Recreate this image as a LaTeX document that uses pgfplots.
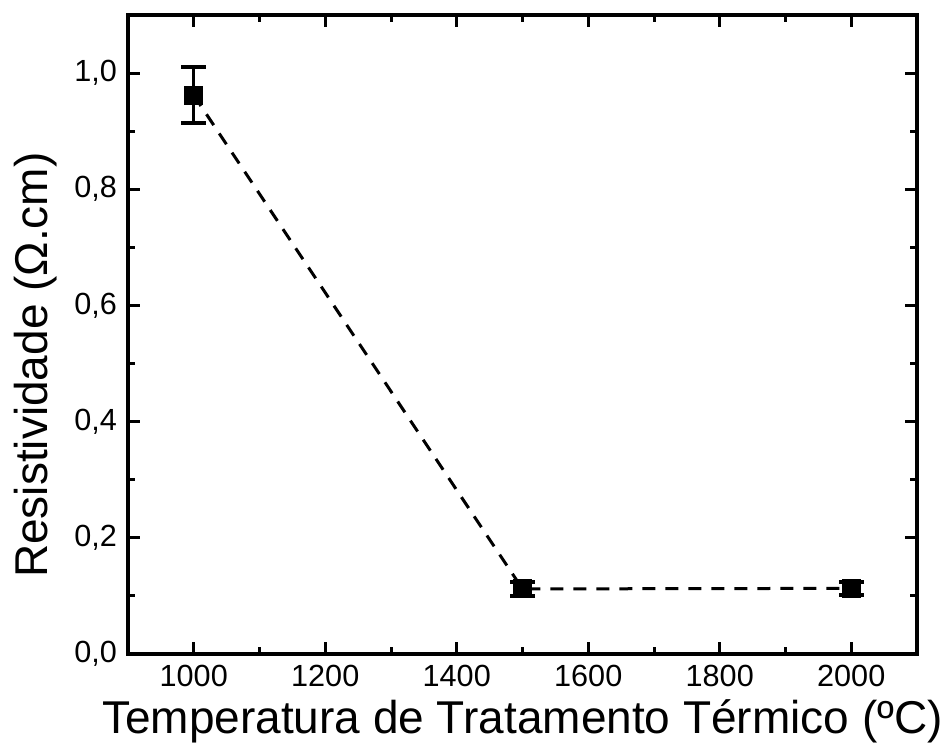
\documentclass[border=0pt]{standalone}
\usepackage{fontspec}
\setmainfont{Liberation Sans}
\usepackage{pgfplots}
\pgfplotsset{compat=1.18}
\begin{document}
\begin{tikzpicture}
\begin{axis}[
  name=ax,
  scale only axis,
  width=394.5pt, height=319.5pt,
  xmin=900, xmax=2100, ymin=0, ymax=1.1,
  xtick={1000,1200,1400,1600,1800,2000},
  ytick={0,0.2,0.4,0.6,0.8,1.0},
  minor x tick num=1, minor y tick num=1,
  tick align=inside,
  major tick length=6pt, minor tick length=3.5pt,
  every tick/.style={line width=1.5pt, black},
  axis line style={line width=2pt},
  /pgf/number format/assume math mode=true,
  xticklabel style={/pgf/number format/1000 sep={}, font=\fontsize{15.3}{18}\selectfont, yshift=-2pt},
  yticklabel style={/pgf/number format/.cd, use comma, fixed, fixed zerofill, precision=1, /tikz/.cd, font=\fontsize{15.3}{18}\selectfont, xshift=-2pt},
  xlabel={Temperatura de Tratamento Térmico (ºC)},
  ylabel={Resistividade (Ω.cm)},
  xlabel style={at={(axis description cs:0.5,0)}, anchor=base, yshift=-39.5pt, font=\fontsize{23}{28}\selectfont},
  ylabel style={at={(axis description cs:-0.1014,0.452)}, anchor=base, font=\fontsize{23}{28}\selectfont},
  clip=false,
]
\addplot[black, line width=1.5pt, dash pattern=on 6.5pt off 5pt,
  mark=square*, mark size=4pt, mark options={solid},
  error bars/.cd, y dir=both, y explicit,
  error bar style={line width=1.5pt, solid},
  error mark options={rotate=90, mark size=6.25pt, line width=2pt, solid}]
  coordinates {
  (1000,0.962) +- (0,0.048)
  (1500,0.112) +- (0,0.012)
  (2000,0.113) +- (0,0.011)
  };
\end{axis}
\pgfresetboundingbox
\path[use as bounding box] ([xshift=-64pt,yshift=-44.5pt]ax.south west) rectangle ([xshift=15pt,yshift=7.5pt]ax.north east);
\end{tikzpicture}
\end{document}
